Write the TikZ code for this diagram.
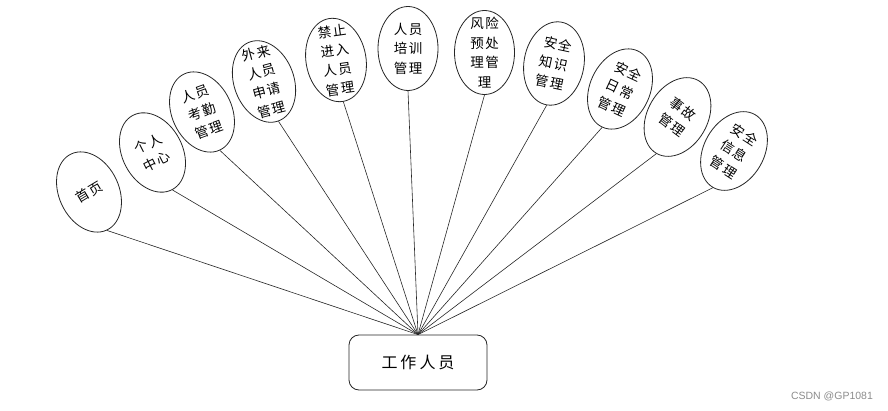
\documentclass[tikz,border=0pt]{standalone}
\usepackage{fontspec}
\newfontfamily\cjk{Noto Sans CJK SC}
\setsansfont{Liberation Sans}
\usetikzlibrary{shapes.geometric}
\newcommand{\cjsp}{\kern1.5pt}
\begin{document}
\begin{tikzpicture}[x=1pt,y=-1pt,
  bub/.style={ellipse,draw=black!85,line width=0.8pt,minimum width=60pt,minimum height=84pt,inner sep=0pt},
  lab/.style={font=\cjk\fontsize{13.5}{19.5}\selectfont,align=center,inner sep=0pt},
  link/.style={line width=0.6pt,draw=black!85},
  hubbox/.style={draw=black!85,line width=0.8pt,rounded corners=10pt,minimum width=138pt,minimum height=55pt,font=\cjk\fontsize{16}{16}\selectfont},
  wmark/.style={font=\sffamily\fontsize{10.5}{10.5}\selectfont,text=black!45}]
\useasboundingbox (0,0) rectangle (888,411);

\node[hubbox] (hub) at (418,362.5) {工\kern3pt{}作\kern3pt{}人\kern3pt{}员};

\node[bub,rotate=25]  (e1)  at (89,192)    {};
\node[bub,rotate=28]  (e2)  at (152.5,152.5) {};
\node[bub,rotate=25]  (e3)  at (202,112)   {};
\node[bub,rotate=20]  (e4)  at (264,81.5)  {};
\node[bub,rotate=10]  (e5)  at (336,60)    {};
\node[bub]            (e6)  at (408,48.5)  {};
\node[bub]            (e7)  at (484.5,52.5) {};
\node[bub,rotate=-10] (e8)  at (554,63.5)  {};
\node[bub,rotate=-25] (e9)  at (620,89)    {};
\node[bub,rotate=-30] (e10) at (677.5,117) {};
\node[bub,rotate=-30] (e11) at (734,151)   {};

\node[lab,rotate=31]  (t1)  at (e1.center)  {首\cjsp{}页};
\node[lab,rotate=27]  (t2)  at (e2.center)  {个\cjsp{}人\\中\cjsp{}心};
\node[lab,rotate=20]  (t3)  at (e3.center)  {人\cjsp{}员\\考\cjsp{}勤\\管\cjsp{}理};
\node[lab,rotate=15]  (t4)  at (e4.center)  {外\cjsp{}来\\人\cjsp{}员\\申\cjsp{}请\\管\cjsp{}理};
\node[lab,rotate=8]   (t5)  at (e5.center)  {禁\cjsp{}止\\进\cjsp{}入\\人\cjsp{}员\\管\cjsp{}理};
\node[lab]            (t6)  at (e6.center)  {人\cjsp{}员\\培\cjsp{}训\\管\cjsp{}理};
\node[lab]            (t7)  at (e7.center)  {风\cjsp{}险\\预\cjsp{}处\\理\cjsp{}管\\理};
\node[lab,rotate=-12] (t8)  at (e8.center)  {安\cjsp{}全\\知\cjsp{}识\\管\cjsp{}理};
\node[lab,rotate=-25] (t9)  at (e9.center)  {安\cjsp{}全\\日\cjsp{}常\\管\cjsp{}理};
\node[lab,rotate=-37] (t10) at (e10.center) {事\cjsp{}故\\管\cjsp{}理};
\node[lab,rotate=-33] (t11) at (e11.center) {安\cjsp{}全\\信\cjsp{}息\\管\cjsp{}理};

\foreach \i in {1,...,11} {\draw[link] (e\i.south) -- (hub.north);}

\node[wmark] (wm) at (832,396) {CSDN @GP1081};
\end{tikzpicture}
\end{document}
